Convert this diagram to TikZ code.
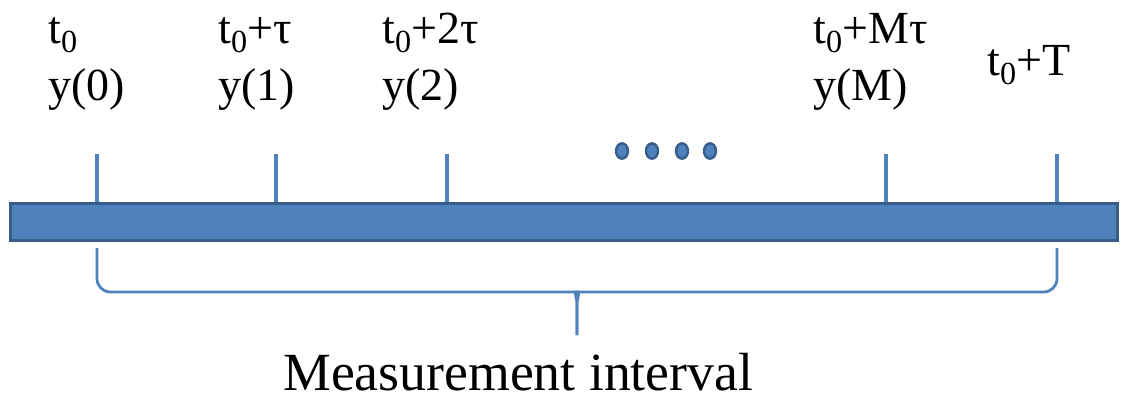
\documentclass[tikz,border=0pt]{standalone}
\usepackage{fontspec}
\setmainfont{Liberation Serif}
\usetikzlibrary{shapes.geometric}
\definecolor{barfill}{HTML}{4F81BD}
\definecolor{barline}{HTML}{385D8A}
\tikzset{
    ticklabel/.style={anchor=base west, align=left, inner sep=0pt,
        font=\fontsize{34.5}{42.75}\selectfont},
    tickline/.style={draw=barfill, line width=2.6pt},
    dotmark/.style={ellipse, fill=barfill, draw=barline, line width=1.8pt,
        minimum width=9pt, minimum height=11.5pt, inner sep=0pt},
}
\begin{document}
\begin{tikzpicture}[x=0.75pt,y=-0.75pt]
        \useasboundingbox (0,0) rectangle (1125,401);
        % time axis
        \node[
            draw=barline, fill=barfill, line width=2.4pt,
            minimum width=1107*0.75pt, minimum height=37*0.75pt,
            inner sep=0pt, anchor=north west
        ] (bar) at (9,202) {};
        % ticks
        \foreach \name/\xpos in {k0/97, k1/276, k2/447, kM/886, kT/1057}
            \coordinate (\name) at (\xpos,154);
        \foreach \name in {k0, k1, k2, kM, kT}
            \draw[tickline] (\name) -- (\name |- bar.north);
        % labels
        \node[ticklabel] (l0) at (48,100) {t\textsubscript{0}\\y(0)};
        \node[ticklabel] (l1) at (218,100) {t\textsubscript{0}+τ\\y(1)};
        \node[ticklabel] (l2) at (382,100) {t\textsubscript{0}+2τ\\y(2)};
        \node[ticklabel] (lM) at (813,100) {t\textsubscript{0}+Mτ\\y(M)};
        \node[ticklabel] (lT) at (987,75) {t\textsubscript{0}+T};
        % dots
        \foreach \i/\xpos in {1/622, 2/652, 3/682, 4/710}
            \node[dotmark] (dot\i) at (\xpos,151) {};
        % brace
        \coordinate (bl) at (97,248);
        \coordinate (br) at (1057,248);
        \coordinate (tip) at (577,335);
        \draw[barfill, line width=2.1pt, rounded corners=10pt]
            (bl) -- (97,292) -- (563,292)
            .. controls (574,292) and (577,300) .. (577,316) -- (tip);
        \draw[barfill, line width=2.1pt, rounded corners=10pt]
            (br) -- (1057,292) -- (591,292)
            .. controls (580,292) and (577,300) .. (577,316) -- (tip);
        \node[anchor=base west, inner sep=0pt,
            font=\fontsize{40.3}{48}\selectfont] (cap) at (283,390)
            {Measurement interval};
    \end{tikzpicture}
\end{document}
